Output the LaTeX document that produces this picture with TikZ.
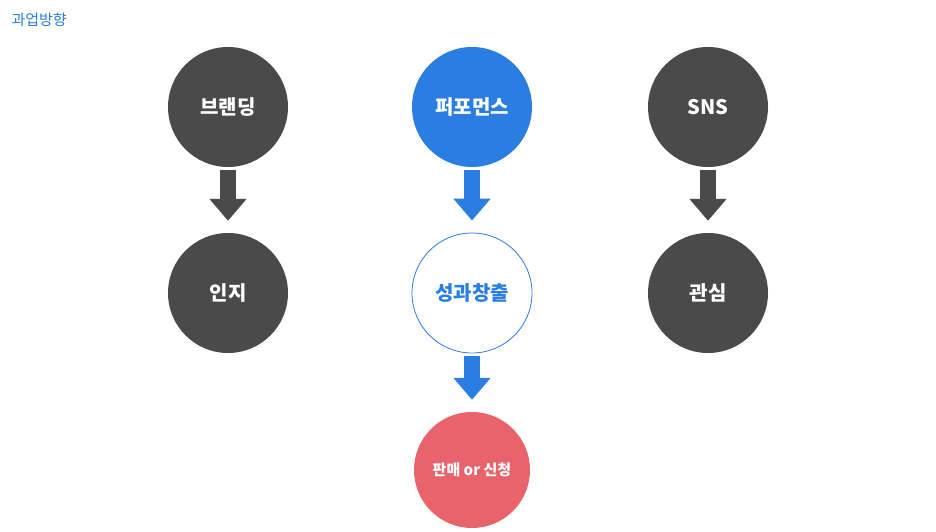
\documentclass[tikz,border=0pt]{standalone}
\usepackage{fontspec}
\newfontfamily\kr{Noto Sans CJK KR}
\usetikzlibrary{arrows.meta}
\definecolor{dgray}{HTML}{4A4A4A}
\definecolor{mblue}{HTML}{2A7DE1}
\definecolor{mred}{HTML}{E8636B}
\begin{document}
\begin{tikzpicture}[x=1pt,y=1pt,
  circ/.style={circle,minimum size=120pt,inner sep=0pt,font=\kr\bfseries\fontsize{20}{24}\selectfont,text=white},
  barrow/.style={line width=16pt,-{Triangle[length=22pt 0,width=36pt 0]},shorten <=3pt,shorten >=12pt}]
\useasboundingbox (0,0) rectangle (936,532);
\node[anchor=west,text=mblue,font=\kr\fontsize{15}{18}\selectfont] (t) at (8,512) {과업방향};
\node[circ,fill=dgray] (b) at (228,425) {브랜딩};
\node[circ,fill=mblue] (p) at (472,425) {퍼포먼스};
\node[circ,fill=dgray] (s) at (708,425) {SNS};
\node[circ,fill=dgray] (i) at (228,239) {인지};
\node[circ,draw=mblue,fill=white,text=mblue,line width=0.8pt] (c) at (472,239) {성과창출};
\node[circ,fill=dgray] (g) at (708,239) {관심};
\node[circ,fill=mred,minimum size=116pt,font=\kr\bfseries\fontsize{15}{18}\selectfont] (m) at (472,62) {판매 or 신청};
\draw[barrow,dgray] (b) -- (i);
\draw[barrow,mblue] (p) -- (c);
\draw[barrow,dgray] (s) -- (g);
\draw[barrow,mblue] (c) -- (m);
\end{tikzpicture}
\end{document}
